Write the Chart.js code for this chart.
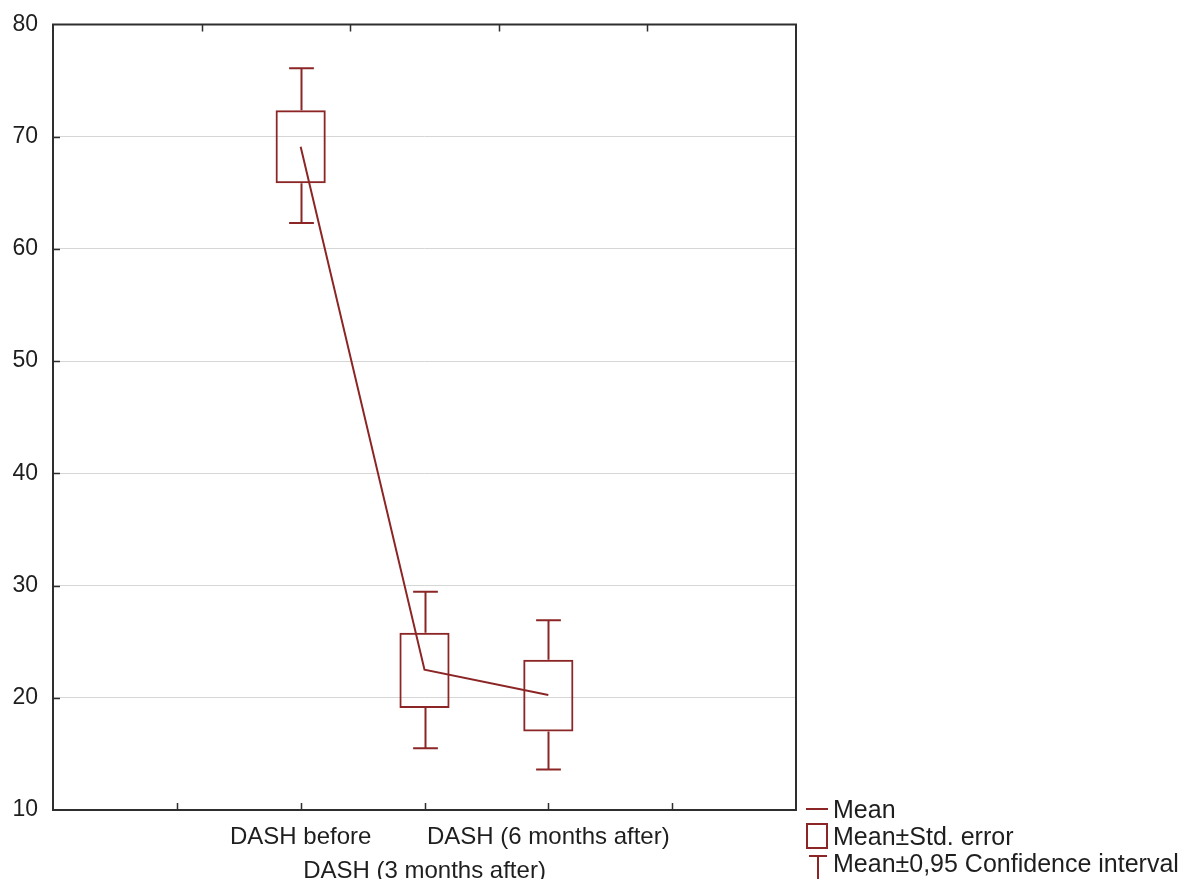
<!DOCTYPE html>
<html>
<head>
<meta charset="utf-8">
<script src="https://cdn.jsdelivr.net/npm/chart.js@4.4.1/dist/chart.umd.min.js"></script>
<style>
  html, body { margin: 0; padding: 0; background: #fff; }
  canvas { display: block; }
</style>
</head>
<body>
<canvas id="chart" width="1184" height="879"></canvas>
<script>
// ─── data ────────────────────────────────────────────────────────────────
const categories = ['DASH before', 'DASH (3 months after)', 'DASH (6 months after)'];
const catPos     = [2, 3, 4];            // slot on the 0..6 x axis
const means      = [69.1, 22.5, 20.25];
const seLow      = [65.85, 19.1, 17.0];
const seHigh     = [72.35, 25.8, 23.4];
const ciLow      = [62.3, 15.5, 13.6];
const ciHigh     = [76.1, 29.45, 26.9];
const legendLabels = ['Mean', 'Mean\u00b1Std. error', 'Mean\u00b10,95 Confidence interval'];

const RED   = '#8c2626';
const FRAME = '#2e2e2e';
const TEXT  = '#1e1e1e';
const FONT  = 'Liberation Sans, Arial, sans-serif';

/** Whiskers for the confidence interval, drawn through the chart scales. */
const whiskerPlugin = {
  id: 'whiskers',
  afterDatasetsDraw(chart) {
    const { ctx, scales: { x, y } } = chart;
    ctx.save();
    ctx.strokeStyle = RED;
    ctx.lineWidth = 2;
    catPos.forEach((p, i) => {
      const px = Math.round(x.getPixelForValue(p)) + 0.5;
      const half = (x.getPixelForValue(p + 0.1) - x.getPixelForValue(p)); // cap half width
      [[seHigh[i], ciHigh[i]], [seLow[i], ciLow[i]]].forEach(([from, to]) => {
        const y0 = y.getPixelForValue(from), y1 = y.getPixelForValue(to);
        ctx.beginPath();
        ctx.moveTo(px, y0); ctx.lineTo(px, y1);
        ctx.moveTo(px - half, y1); ctx.lineTo(px + half, y1);
        ctx.stroke();
      });
    });
    ctx.restore();
  },
};

/** Plot frame, inward tick marks and the legend block. */
const framePlugin = {
  id: 'frame',
  afterDraw(chart) {
    const { ctx, chartArea: a, scales } = chart;
    const TL = 7;
    ctx.save();
    ctx.strokeStyle = FRAME;
    ctx.lineWidth = 2;
    ctx.strokeRect(a.left, a.top, a.right - a.left, a.bottom - a.top);
    ctx.beginPath();
    scales.x.ticks.forEach(t => {
      if (t.value <= scales.x.min || t.value >= scales.x.max) return;
      const px = Math.round(scales.x.getPixelForValue(t.value)) + 0.5;
      ctx.moveTo(px, a.bottom); ctx.lineTo(px, a.bottom - TL);
    });
    scales.x2.ticks.forEach(t => {
      if (t.value <= scales.x2.min || t.value >= scales.x2.max) return;
      const px = Math.round(scales.x2.getPixelForValue(t.value)) + 0.5;
      ctx.moveTo(px, a.top); ctx.lineTo(px, a.top + TL);
    });
    scales.y.ticks.forEach(t => {
      if (t.value <= scales.y.min || t.value >= scales.y.max) return;
      const py = Math.round(scales.y.getPixelForValue(t.value)) + 0.5;
      ctx.moveTo(a.left, py); ctx.lineTo(a.left + TL, py);
    });
    ctx.lineWidth = 1.5;
    ctx.stroke();

    // legend
    const lx = a.right + 10;
    const base = [a.bottom + 8, a.bottom + 35, a.bottom + 62];
    ctx.strokeStyle = RED;
    ctx.lineWidth = 2;
    ctx.beginPath();
    ctx.moveTo(lx, base[0] - 9); ctx.lineTo(lx + 22, base[0] - 9);
    ctx.stroke();
    ctx.strokeRect(lx + 1, base[1] - 21, 20, 24);
    ctx.beginPath();
    ctx.moveTo(lx + 3, base[2] - 16); ctx.lineTo(lx + 21, base[2] - 16);
    ctx.moveTo(lx + 12, base[2] - 16); ctx.lineTo(lx + 12, chart.height);
    ctx.stroke();
    ctx.fillStyle = TEXT;
    ctx.font = `25px ${FONT}`;
    ctx.textBaseline = 'alphabetic';
    ctx.textAlign = 'left';
    legendLabels.forEach((s, i) => ctx.fillText(s, lx + 27, base[i]));
    ctx.restore();
  },
};

new Chart(document.getElementById('chart'), {
  type: 'bar',
  data: {
    datasets: [
      {
        type: 'bar',
        label: legendLabels[1],
        data: catPos.map((p, i) => ({ x: p, y: [seLow[i], seHigh[i]] })),
        backgroundColor: 'rgba(0,0,0,0)',
        borderColor: RED,
        borderWidth: 2,
        borderSkipped: false,
        categoryPercentage: 1,
        barPercentage: 0.405,
        order: 2,
      },
      {
        type: 'line',
        label: legendLabels[0],
        data: catPos.map((p, i) => ({ x: p, y: means[i] })),
        borderColor: RED,
        borderWidth: 2,
        pointRadius: 0,
        tension: 0,
        fill: false,
        order: 1,
      },
    ],
  },
  options: {
    responsive: false,
    animation: false,
    layout: { padding: { left: 0, right: 388, top: 0, bottom: 0 } },
    plugins: { legend: { display: false }, tooltip: { enabled: false } },
    scales: {
      x: {
        type: 'linear',
        position: 'bottom',
        min: 0, max: 6,
        offset: false,
        grid: { display: false, drawTicks: false, offset: false },
        border: { display: false },
        afterFit: s => { s.height = 69; },
        ticks: {
          stepSize: 1,
          autoSkip: false,
          maxRotation: 0,
          padding: 10,
          color: TEXT,
          font: { family: FONT, size: 24, lineHeight: 1.43 },
          callback: v => {
            const i = catPos.indexOf(v);
            if (i < 0) return '';
            return i % 2 === 1 ? ['', categories[i]] : categories[i];
          },
        },
      },
      x2: {
        type: 'linear',
        position: 'top',
        min: 0, max: 5,
        offset: false,
        grid: { display: false, drawTicks: false, offset: false },
        border: { display: false },
        ticks: { display: false, stepSize: 1 },
        afterFit: s => { s.height = 24.5; },
      },
      y: {
        min: 10, max: 80,
        grid: { color: '#d6d6d6', lineWidth: 1, drawTicks: false },
        border: { display: false },
        afterFit: s => { s.width = 53; },
        ticks: {
          stepSize: 10,
          padding: 15,
          color: TEXT,
          font: { family: FONT, size: 23, lineHeight: 0.8 },
        },
      },
    },
  },
  plugins: [whiskerPlugin, framePlugin],
});
</script>
</body>
</html>
